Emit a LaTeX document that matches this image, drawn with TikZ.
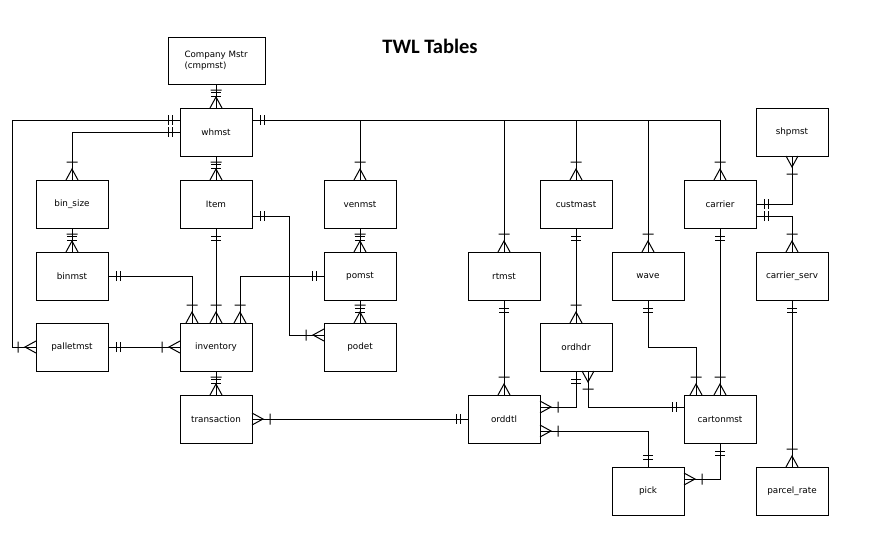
\documentclass[tikz,border=0pt]{standalone}
\usepackage{fontspec}
\newfontfamily\lblfont{DejaVu Sans}
\newfontfamily\ttlfont{Carlito}
\usetikzlibrary{arrows.meta}
\pgfdeclarearrow{
  name = ERone,
  setup code = {
    \pgfarrowssettipend{0pt}
    \pgfarrowssetlineend{0pt}
    \pgfarrowssetbackend{-12pt}
    \pgfarrowsupperhullpoint{0pt}{5pt}
    \pgfarrowsupperhullpoint{-12pt}{5pt}
  },
  drawing code = {
    \pgfpathmoveto{\pgfqpoint{-8pt}{5pt}}
    \pgfpathlineto{\pgfqpoint{-8pt}{-5pt}}
    \pgfpathmoveto{\pgfqpoint{-12pt}{5pt}}
    \pgfpathlineto{\pgfqpoint{-12pt}{-5pt}}
    \pgfusepathqstroke
  }
}
\pgfdeclarearrow{
  name = ERmany,
  setup code = {
    \pgfarrowssettipend{0pt}
    \pgfarrowssetlineend{0pt}
    \pgfarrowssetbackend{-18pt}
    \pgfarrowsupperhullpoint{0pt}{6pt}
    \pgfarrowsupperhullpoint{-18pt}{6pt}
  },
  drawing code = {
    \pgfpathmoveto{\pgfqpoint{0pt}{6pt}}
    \pgfpathlineto{\pgfqpoint{-11pt}{0pt}}
    \pgfpathlineto{\pgfqpoint{0pt}{-6pt}}
    \pgfpathmoveto{\pgfqpoint{-18pt}{5.5pt}}
    \pgfpathlineto{\pgfqpoint{-18pt}{-5.5pt}}
    \pgfusepathqstroke
  }
}
\begin{document}
\begin{tikzpicture}[x=1pt,y=-1pt,line width=1pt,
  tbl/.style={draw, minimum width=72pt, minimum height=48pt, inner sep=0pt, outer sep=0pt,
    font=\lblfont\fontsize{8.8}{10}\selectfont},
  rel/.style={ERone-ERmany}]
\useasboundingbox (0,0) rectangle (876,539);
\fill[white] (0,0) rectangle (876,539);
\node[font=\ttlfont\bfseries\fontsize{20.5}{22}\selectfont, anchor=base] (title) at (430,53.3) {TWL Tables};

\node[tbl, minimum width=97pt, minimum height=47pt] (cmp) at (216.5,60.5) {};
\node[anchor=west, align=left, inner sep=0pt, font=\lblfont\fontsize{8.7}{11.5}\selectfont] (cmptxt) at ([xshift=16pt]cmp.west) {Company Mstr\\(cmpmst)};

\node[tbl] (whmst) at (216,132) {whmst};
\node[tbl] (binsize) at (72,204) {bin\_size};
\node[tbl] (item) at (216,204) {Item};
\node[tbl] (binmst) at (72,276) {binmst};
\node[tbl] (palletmst) at (72,347) {palletmst};
\node[tbl] (inventory) at (216,347) {inventory};
\node[tbl] (transaction) at (216,419) {transaction};
\node[tbl] (venmst) at (360,204) {venmst};
\node[tbl] (pomst) at (360,276) {pomst};
\node[tbl] (podet) at (360,347) {podet};
\node[tbl] (rtmst) at (504,276) {rtmst};
\node[tbl] (custmast) at (576,204) {custmast};
\node[tbl] (ordhdr) at (576,347) {ordhdr};
\node[tbl] (orddtl) at (504,419) {orddtl};
\node[tbl] (wave) at (648,276) {wave};
\node[tbl] (carrier) at (720,204) {carrier};
\node[tbl] (cartonmst) at (720,419) {cartonmst};
\node[tbl] (pick) at (648,491) {pick};
\node[tbl] (shpmst) at (792,132) {shpmst};
\node[tbl] (carrierserv) at (792,276) {carrier\_serv};
\node[tbl] (parcelrate) at (792,491) {parcel\_rate};

% connectors
\draw[rel] (cmp.south -| whmst.north) -- (whmst.north);
\draw[rel] ([yshift=12pt]whmst.west) -| ([xshift=-24pt]palletmst.west) -- (palletmst.west);
\draw[rel] (whmst.west) -| (binsize.north);
\coordinate (bus) at ([yshift=12pt]whmst.east);
\draw[rel] (bus) -| (carrier.north);
\draw[-ERmany] (venmst.north |- bus) -- (venmst.north);
\draw[-ERmany] (rtmst.north |- bus) -- (rtmst.north);
\draw[-ERmany] (custmast.north |- bus) -- (custmast.north);
\draw[-ERmany] (wave.north |- bus) -- (wave.north);
\draw[rel] (binsize.south) -- (binmst.north);
\draw[rel] (whmst.south) -- (item.north);
\draw[rel] (item.south) -- (inventory.north);
\draw[rel] ([yshift=-12pt]item.east) -| ([xshift=-35pt,yshift=12pt]podet.west) -- ([yshift=12pt]podet.west);
\draw[rel] (binmst.east) -| ([xshift=-24pt]inventory.north);
\draw[rel] (pomst.west) -| ([xshift=24pt]inventory.north);
\draw[rel] (venmst.south) -- (pomst.north);
\draw[rel] (pomst.south) -- (podet.north);
\draw[rel] (palletmst.east) -- (inventory.west);
\draw[rel] (inventory.south) -- (transaction.north);
\draw[rel] (orddtl.west) -- (transaction.east);
\draw[rel] (rtmst.south) -- (orddtl.north);
\draw[rel] (custmast.south) -- (ordhdr.north);
\draw[rel] (ordhdr.south) |- ([yshift=12pt]orddtl.east);
\draw[rel] ([yshift=12pt]cartonmst.west) -| ([xshift=12pt]ordhdr.south);
\draw[rel] (pick.north) |- ([yshift=-12pt]orddtl.east);
\draw[rel] (cartonmst.south) |- ([yshift=12pt]pick.east);
\draw[rel] (wave.south) -- ++(0,47) -| ([xshift=-24pt]cartonmst.north);
\draw[rel] (carrier.south) -- (cartonmst.north);
\draw[rel] (carrier.east) -| (shpmst.south);
\draw[rel] ([yshift=-12pt]carrier.east) -| (carrierserv.north);
\draw[rel] (carrierserv.south) -- (parcelrate.north);
\end{tikzpicture}
\end{document}
